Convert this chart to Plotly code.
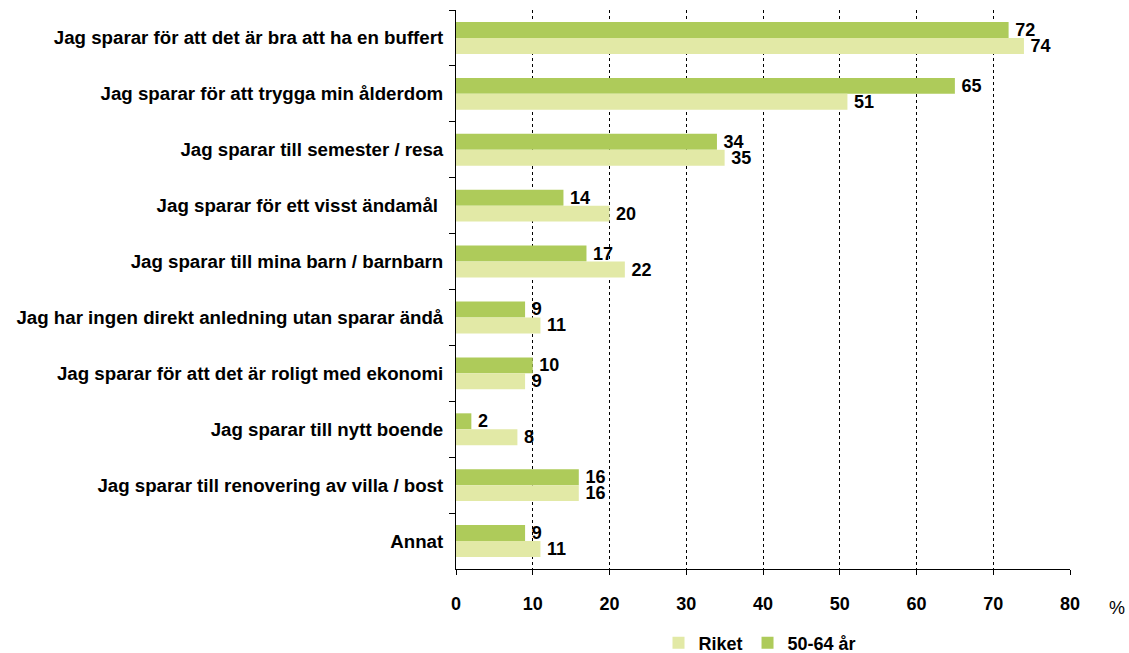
import plotly.graph_objects as go

categories = [
    "Jag sparar för att det är bra att ha en buffert",
    "Jag sparar för att trygga min ålderdom",
    "Jag sparar till semester / resa",
    "Jag sparar för ett visst ändamål ",
    "Jag sparar till mina barn / barnbarn",
    "Jag har ingen direkt anledning utan sparar ändå",
    "Jag sparar för att det är roligt med ekonomi",
    "Jag sparar till nytt boende",
    "Jag sparar till renovering av villa / bost",
    "Annat",
]
riket = [74, 51, 35, 20, 22, 11, 9, 8, 16, 11]
age_50_64 = [72, 65, 34, 14, 17, 9, 10, 2, 16, 9]
x_ticks = [0, 10, 20, 30, 40, 50, 60, 70, 80]

FONT = "Liberation Sans, Arial, sans-serif"
DARK = "#AECB5A"
LIGHT = "#E2E9A6"

W, H = 1129, 653
ML, MR, MT, MB = 456, 59, 10, 84
PW = W - ML - MR
PH = H - MT - MB

label_tpl = "\u2009%{x}"

fig = go.Figure()
fig.add_trace(go.Bar(
    y=categories, x=age_50_64, name="50-64 år", orientation="h",
    marker=dict(color=DARK, line=dict(width=0)),
    texttemplate=label_tpl, textposition="outside", cliponaxis=False, constraintext="none",
    textfont=dict(family=FONT, size=18, color="black", weight="bold"),
    legendrank=2,
))
fig.add_trace(go.Bar(
    y=categories, x=riket, name="Riket", orientation="h",
    marker=dict(color=LIGHT, line=dict(width=0)),
    texttemplate=label_tpl, textposition="outside", cliponaxis=False, constraintext="none",
    textfont=dict(family=FONT, size=18, color="black", weight="bold"),
    legendrank=1,
))

fig.update_layout(
    width=W, height=H,
    margin=dict(l=ML, r=MR, t=MT, b=MB, autoexpand=False),
    paper_bgcolor="white", plot_bgcolor="white",
    barmode="group", bargap=0.43, bargroupgap=0,
    font=dict(family=FONT, size=18, color="black"),
    showlegend=True,
    legend=dict(orientation="h",
                x=(760 - ML) / PW, xanchor="center",
                y=(H - MB - 643) / PH, yanchor="middle",
                font=dict(family=FONT, size=18, color="black", weight="bold"),
                itemwidth=30, traceorder="normal"),
)
fig.update_xaxes(
    range=[0, 80], tickvals=x_ticks, ticktext=[str(v) for v in x_ticks],
    showgrid=True, gridcolor="black", griddash="dot", gridwidth=1,
    showline=True, linecolor="black", linewidth=1,
    ticks="outside", ticklen=5, tickcolor="black",
    tickfont=dict(family=FONT, size=18, color="black", weight="bold"),
    zeroline=False, ticklabelstandoff=13,
)
fig.update_yaxes(
    autorange="reversed", type="category",
    showline=True, linecolor="black", linewidth=1,
    ticks="outside", ticklen=6, tickcolor="black", tickson="boundaries",
    tickfont=dict(family=FONT, size=18.7, color="black", weight="bold"),
    showgrid=False, ticklabelstandoff=8,
)
fig.add_annotation(
    text="%", xref="paper", yref="paper", showarrow=False,
    x=(1117 - ML) / PW, y=(H - MB - 608) / PH, xanchor="center", yanchor="middle",
    font=dict(family=FONT, size=18, color="black"),
)

fig.write_html("out.html", config={"displayModeBar": False},
               post_script="document.body.style.margin='0';")
